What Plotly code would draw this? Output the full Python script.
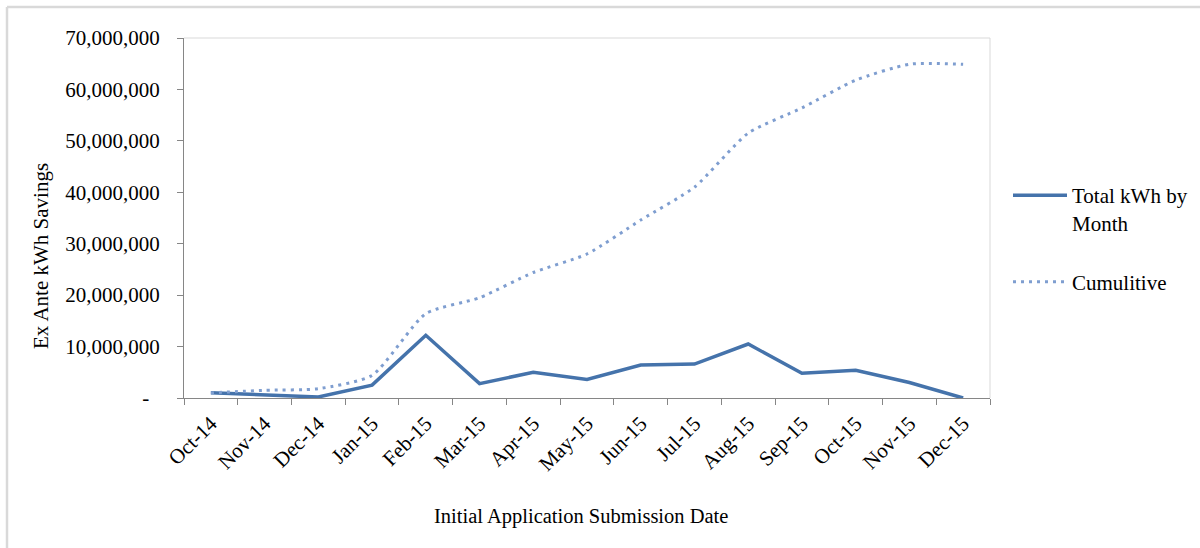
import plotly.graph_objects as go

months = ["Oct-14", "Nov-14", "Dec-14", "Jan-15", "Feb-15", "Mar-15", "Apr-15", "May-15",
          "Jun-15", "Jul-15", "Aug-15", "Sep-15", "Oct-15", "Nov-15", "Dec-15"]
monthly = [1000000, 550000, 200000, 2500000, 12200000, 2800000, 5000000, 3600000,
           6400000, 6600000, 10500000, 4800000, 5400000, 3000000, 0]
cumulative = [1000000, 1500000, 1800000, 4400000, 16400000, 19500000, 24400000, 28000000,
              34600000, 41000000, 51500000, 56400000, 61800000, 64900000, 64900000]
ytick_vals = [0, 10000000, 20000000, 30000000, 40000000, 50000000, 60000000, 70000000]
ytick_text = ["-\u00a0\u00a0", "10,000,000", "20,000,000", "30,000,000", "40,000,000",
              "50,000,000", "60,000,000", "70,000,000"]
x_title = "Initial Application Submission Date"
y_title = "Ex Ante kWh Savings"

W, H = 1200, 548
L, R, T, B = 184, 990, 38, 398

fig = go.Figure()
fig.add_trace(go.Scatter(
    x=months, y=monthly, mode="lines", name="Total kWh by<br>Month", legendgroup="a",
    line=dict(color="#4573AB", width=3.5)))
fig.add_trace(go.Scatter(
    x=months, y=cumulative, mode="lines", name="Cumulitive", legendgroup="b",
    line=dict(color="#7F9ED0", width=3, dash="3px,5px", shape="spline", smoothing=0.6)))

FAM = "Liberation Serif, Times New Roman, serif"
font = dict(family=FAM, size=21, color="#000000")

def px2x(p):
    return (p - L) / (R - L)

def px2y(p):
    return (B - p) / (B - T)

fig.update_layout(
    width=W, height=H,
    margin=dict(l=L, r=W - R, t=T, b=H - B, pad=0, autoexpand=False),
    paper_bgcolor="white", plot_bgcolor="white",
    font=font,
    showlegend=True,
    legend=dict(x=px2x(1008), y=px2y(175), xanchor="left", yanchor="top",
                font=dict(family=FAM, size=21, color="#000"), valign="top",
                tracegroupgap=29, itemwidth=54, bgcolor="rgba(0,0,0,0)"),
    xaxis=dict(
        type="category", range=[-0.5, 14.5], tickangle=-45,
        tickson="boundaries", ticks="outside", ticklen=6, tickcolor="#868686",
        showline=True, linecolor="#868686", linewidth=1, mirror=False,
        showgrid=False, zeroline=False, ticklabelstandoff=4, automargin=False,
        tickfont=dict(family=FAM, size=21),
    ),
    yaxis=dict(
        range=[0, 70000000], tickvals=ytick_vals, ticktext=ytick_text,
        ticks="outside", ticklen=6, tickcolor="#868686",
        showline=True, linecolor="#868686", linewidth=1, automargin=False,
        showgrid=False, zeroline=False, ticklabelstandoff=13,
        tickfont=dict(family=FAM, size=21),
    ),
    annotations=[
        dict(text=x_title, xref="paper", yref="paper", x=px2x(581), y=px2y(516),
             xanchor="center", yanchor="middle", showarrow=False,
             font=dict(family=FAM, size=20.5, color="#000")),
        dict(text=y_title, xref="paper", yref="paper", x=px2x(41), y=px2y(256),
             xanchor="center", yanchor="middle", showarrow=False, textangle=-90,
             font=dict(family=FAM, size=21, color="#000")),
    ],
    shapes=[
        dict(type="line", xref="paper", yref="paper", x0=0, x1=1, y0=1, y1=1,
             line=dict(color="#D9D9D9", width=1)),
        dict(type="line", xref="paper", yref="paper", x0=1, x1=1, y0=0, y1=1,
             line=dict(color="#D9D9D9", width=1)),
        dict(type="line", xref="paper", yref="paper", x0=px2x(7), x1=px2x(1200),
             y0=px2y(7), y1=px2y(7), line=dict(color="#D9D9D9", width=2.5)),
        dict(type="line", xref="paper", yref="paper", x0=px2x(7), x1=px2x(7),
             y0=px2y(7), y1=px2y(548), line=dict(color="#D9D9D9", width=2.5)),
    ],
)

fig.write_html("out.html", config={"displayModeBar": False},
               post_script="document.body.style.margin='0px';")
